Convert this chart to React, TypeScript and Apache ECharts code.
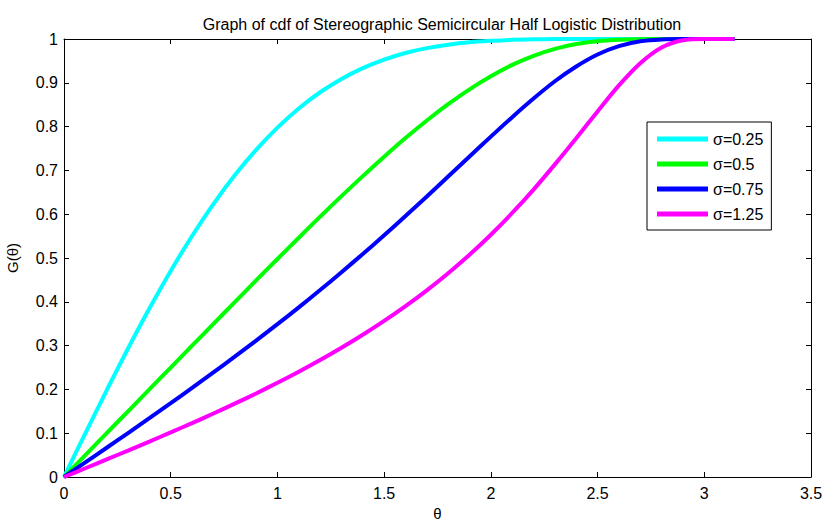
import React, { useEffect, useRef } from "react";
import * as echarts from "echarts";

const theta = [0, 0.1, 0.2, 0.3, 0.4, 0.5, 0.6, 0.7, 0.8, 0.9, 1.0, 1.1, 1.2, 1.3, 1.4, 1.5, 1.6, 1.7, 1.8, 1.9, 2.0, 2.1, 2.2, 2.3, 2.4, 2.5, 2.6, 2.7, 2.8, 2.9, 3.0, 3.1, 3.1416];

const g025 = [0, 0.0998, 0.198, 0.2934, 0.3845, 0.4705, 0.5502, 0.6232, 0.6887, 0.7467, 0.7977, 0.8414, 0.8784, 0.9089, 0.9335, 0.953, 0.9681, 0.9792, 0.9871, 0.9927, 0.9959, 0.9981, 0.9992, 0.9998, 1, 1, 1, 1, 1, 1, 1, 1, 1];
const g050 = [0, 0.05, 0.1, 0.15, 0.2, 0.2499, 0.2998, 0.3496, 0.3992, 0.4488, 0.4978, 0.5463, 0.5943, 0.6412, 0.687, 0.7313, 0.7738, 0.8139, 0.8511, 0.8851, 0.915, 0.9408, 0.9615, 0.9774, 0.9884, 0.9951, 0.9985, 0.9997, 1, 1, 1, 1, 1];
const g075 = [0, 0.0334, 0.0668, 0.1004, 0.1343, 0.1686, 0.2034, 0.2387, 0.2746, 0.3113, 0.3489, 0.3873, 0.4268, 0.4675, 0.5092, 0.5519, 0.5958, 0.6404, 0.686, 0.7317, 0.7771, 0.8216, 0.8641, 0.9035, 0.9372, 0.9646, 0.9836, 0.9947, 0.9991, 1, 1, 1, 1];
const g125 = [0, 0.02, 0.0401, 0.0604, 0.0809, 0.1018, 0.1231, 0.145, 0.1675, 0.1908, 0.2151, 0.2404, 0.267, 0.2951, 0.3248, 0.3563, 0.3901, 0.4262, 0.4653, 0.5075, 0.5532, 0.6028, 0.6562, 0.7137, 0.7735, 0.8346, 0.894, 0.9448, 0.9808, 0.9973, 1, 1, 1];

const seriesNames = ["σ=0.25", "σ=0.5", "σ=0.75", "σ=1.25"];
const seriesColors = ["#00FFFF", "#00FF00", "#0000FF", "#FF00FF"];
const seriesData = [g025, g050, g075, g125];

const FONT = "'Liberation Sans', Arial, Helvetica, sans-serif";

export default function App() {
  const ref = useRef<HTMLDivElement>(null);
  useEffect(() => {
    if (!ref.current) return;
    const chart = echarts.init(ref.current, null, { renderer: "svg" });
    const axisCommon = {
      type: "value",
      axisLine: { show: true, onZero: false, lineStyle: { color: "#000", width: 1 } },
      axisTick: { show: true, inside: true, length: 5, lineStyle: { color: "#000" } },
      splitLine: { show: false },
    };
    chart.setOption({
      animation: false,
      backgroundColor: "#fff",
      textStyle: { fontFamily: FONT },
      title: {
        text: "Graph of cdf of Stereographic Semicircular Half Logistic Distribution",
        left: 437,
        textAlign: "center",
        top: 11,
        textStyle: { fontFamily: FONT, fontSize: 16, fontWeight: "normal", color: "#000" },
      },
      grid: { left: 64, right: 13, top: 39, bottom: 45, containLabel: false, outerBoundsMode: "none" },
      legend: {
        orient: "vertical",
        left: 647,
        top: 122,
        padding: [9, 8, 8, 10],
        itemGap: 9,
        itemWidth: 51,
        itemHeight: 5,
        icon: "rect",
        borderColor: "#000",
        borderWidth: 1,
        backgroundColor: "#fff",
        textStyle: { fontFamily: FONT, fontSize: 16, color: "#000", lineHeight: 14, padding: [0, 0, 0, 0] },
        data: seriesNames,
      },
      xAxis: [
        {
          ...axisCommon,
          position: "bottom",
          min: 0,
          max: 3.5,
          interval: 0.5,
          name: "θ",
          nameLocation: "middle",
          nameGap: 29,
          nameTextStyle: { fontFamily: FONT, fontSize: 15, color: "#000" },
          axisLabel: { fontFamily: FONT, fontSize: 16, color: "#000", margin: 8 },
        },
        {
          ...axisCommon,
          position: "top",
          min: 0,
          max: 3.5,
          interval: 0.5,
          axisLabel: { show: false },
        },
      ],
      yAxis: [
        {
          ...axisCommon,
          position: "left",
          min: 0,
          max: 1,
          interval: 0.1,
          name: "G(θ)",
          nameLocation: "middle",
          nameGap: 44,
          nameRotate: 90,
          nameTextStyle: { fontFamily: FONT, fontSize: 15, color: "#000" },
          axisLabel: { fontFamily: FONT, fontSize: 16, color: "#000", margin: 6, formatter: (v: number) => String(Math.round(v * 10) / 10) },
        },
        {
          ...axisCommon,
          position: "right",
          min: 0,
          max: 1,
          interval: 0.1,
          axisLabel: { show: false },
        },
      ],
      series: seriesNames.map((name, i) => ({
        name,
        type: "line",
        xAxisIndex: 0,
        yAxisIndex: 0,
        data: theta.map((t, j) => [t, seriesData[i][j]]),
        showSymbol: false,
        smooth: 0.3,
        lineStyle: { color: seriesColors[i], width: 4 },
        itemStyle: { color: seriesColors[i] },
      })),
    });
    return () => chart.dispose();
  }, []);
  return <div ref={ref} style={{ width: 824, height: 522, position: "absolute", left: 0, top: 0 }} />;
}
